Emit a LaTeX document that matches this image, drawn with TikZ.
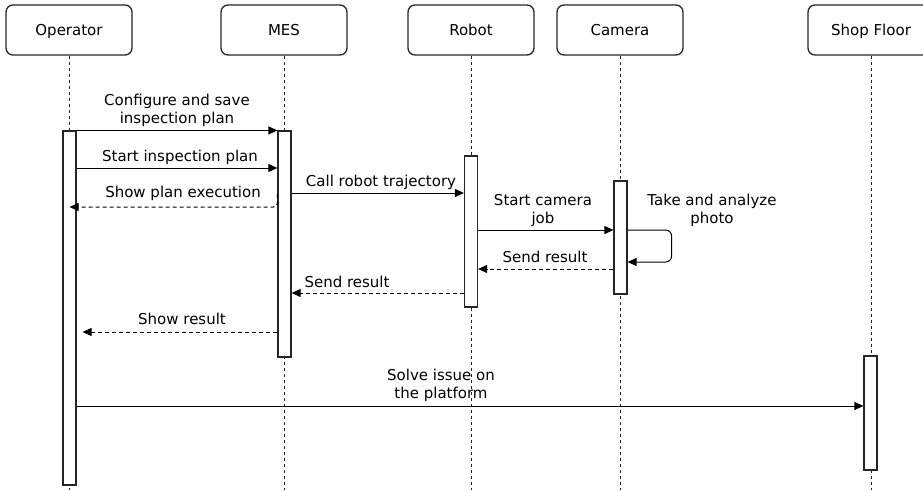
\documentclass[tikz,border=0pt]{standalone}
\usepackage{fontspec}
\setmainfont{DejaVu Sans}
\usetikzlibrary{arrows.meta}
\tikzstyle{actor} = [draw=black!85, line width=1.3pt, rectangle,
rounded corners=7pt, minimum width=126pt, minimum height=50pt,
text height=11pt, text depth=0pt]
\tikzstyle{actbar} = [draw=black!85, fill=white, line width=1.2pt,
rectangle, minimum width=13pt, inner sep=0pt]
\tikzstyle{lifeline} = [black!85, line width=1pt, dash pattern=on 3pt off 3pt]
\tikzstyle{msg} = [line width=1pt, -{Triangle[length=9pt,width=8pt]}]
\tikzstyle{reply} = [msg, dash pattern=on 4pt off 3pt]
\tikzstyle{lbl} = [align=center, inner sep=0pt]

\begin{document}
\begin{tikzpicture}[x=1pt, y=-1pt, font=\fontsize{15}{18}\selectfont]
        \clip (0,0) rectangle (923,490);
        % participants
        \node [actor] (op) at (69,30) {Operator};
        \node [actor] (mes) at (284,30) {MES};
        \node [actor] (robot) at (471,30) {Robot};
        \node [actor] (cam) at (620,30) {Camera};
        \node [actor] (shop) at (871,30) {Shop Floor};
        \foreach \p in {op,mes,robot,cam,shop}
            \draw [lifeline] (\p.south) -- (\p.south |- 0,490);
        % activations
        \node [actbar, minimum height=354pt] (opbar) at (69.5,308) {};
        \node [actbar, minimum height=226pt] (mesbar) at (284.5,244) {};
        \node [actbar, minimum height=151pt] (robotbar) at (471,231.5) {};
        \node [actbar, minimum height=113pt] (cambar) at (620.5,237.5) {};
        \node [actbar, minimum height=114pt] (shopbar) at (870.5,413) {};
        % messages
        \draw [msg] (opbar.north east) -- (mesbar.north west);
        \node [lbl] (l1) at (177,110) {Configure and save\\inspection plan};
        \draw [msg] (opbar.east |- 0,168) -- (mesbar.west |- 0,168);
        \node [lbl] (l2) at (180,157) {Start inspection plan};
        \draw [reply, rounded corners=4pt] (mesbar.west |- 0,194) |- (opbar.center |- 0,207);
        \node [lbl] (l3) at (183,193) {Show plan execution};
        \draw [msg] (mesbar.east |- 0,193) -- (robotbar.west |- 0,193);
        \node [lbl] (l4) at (381,182) {Call robot trajectory};
        \draw [msg] (robotbar.east |- 0,230) -- (cambar.west |- 0,230);
        \node [lbl] (l5) at (543,210) {Start camera\\job};
        \draw [msg, rounded corners=6pt] (cambar.east |- 0,230) -- ++(44,0) |- (cambar.east |- 0,262);
        \node [lbl] (l6) at (712,210) {Take and analyze\\photo};
        \draw [reply] (cambar.west |- 0,269) -- (robotbar.east |- 0,269);
        \node [lbl] (l7) at (545,257) {Send result};
        \draw [reply] (robotbar.west |- 0,293) -- (mesbar.east |- 0,293);
        \node [lbl] (l8) at (347,282) {Send result};
        \draw [reply, shorten >=6pt] (mesbar.west |- 0,332) -- (opbar.east |- 0,332);
        \node [lbl] (l9) at (182,319) {Show result};
        \draw [msg] (opbar.east |- 0,406) -- (shopbar.west |- 0,406);
        \node [lbl] (l10) at (441,385) {Solve issue on\\the platform};
    \end{tikzpicture}
\end{document}
